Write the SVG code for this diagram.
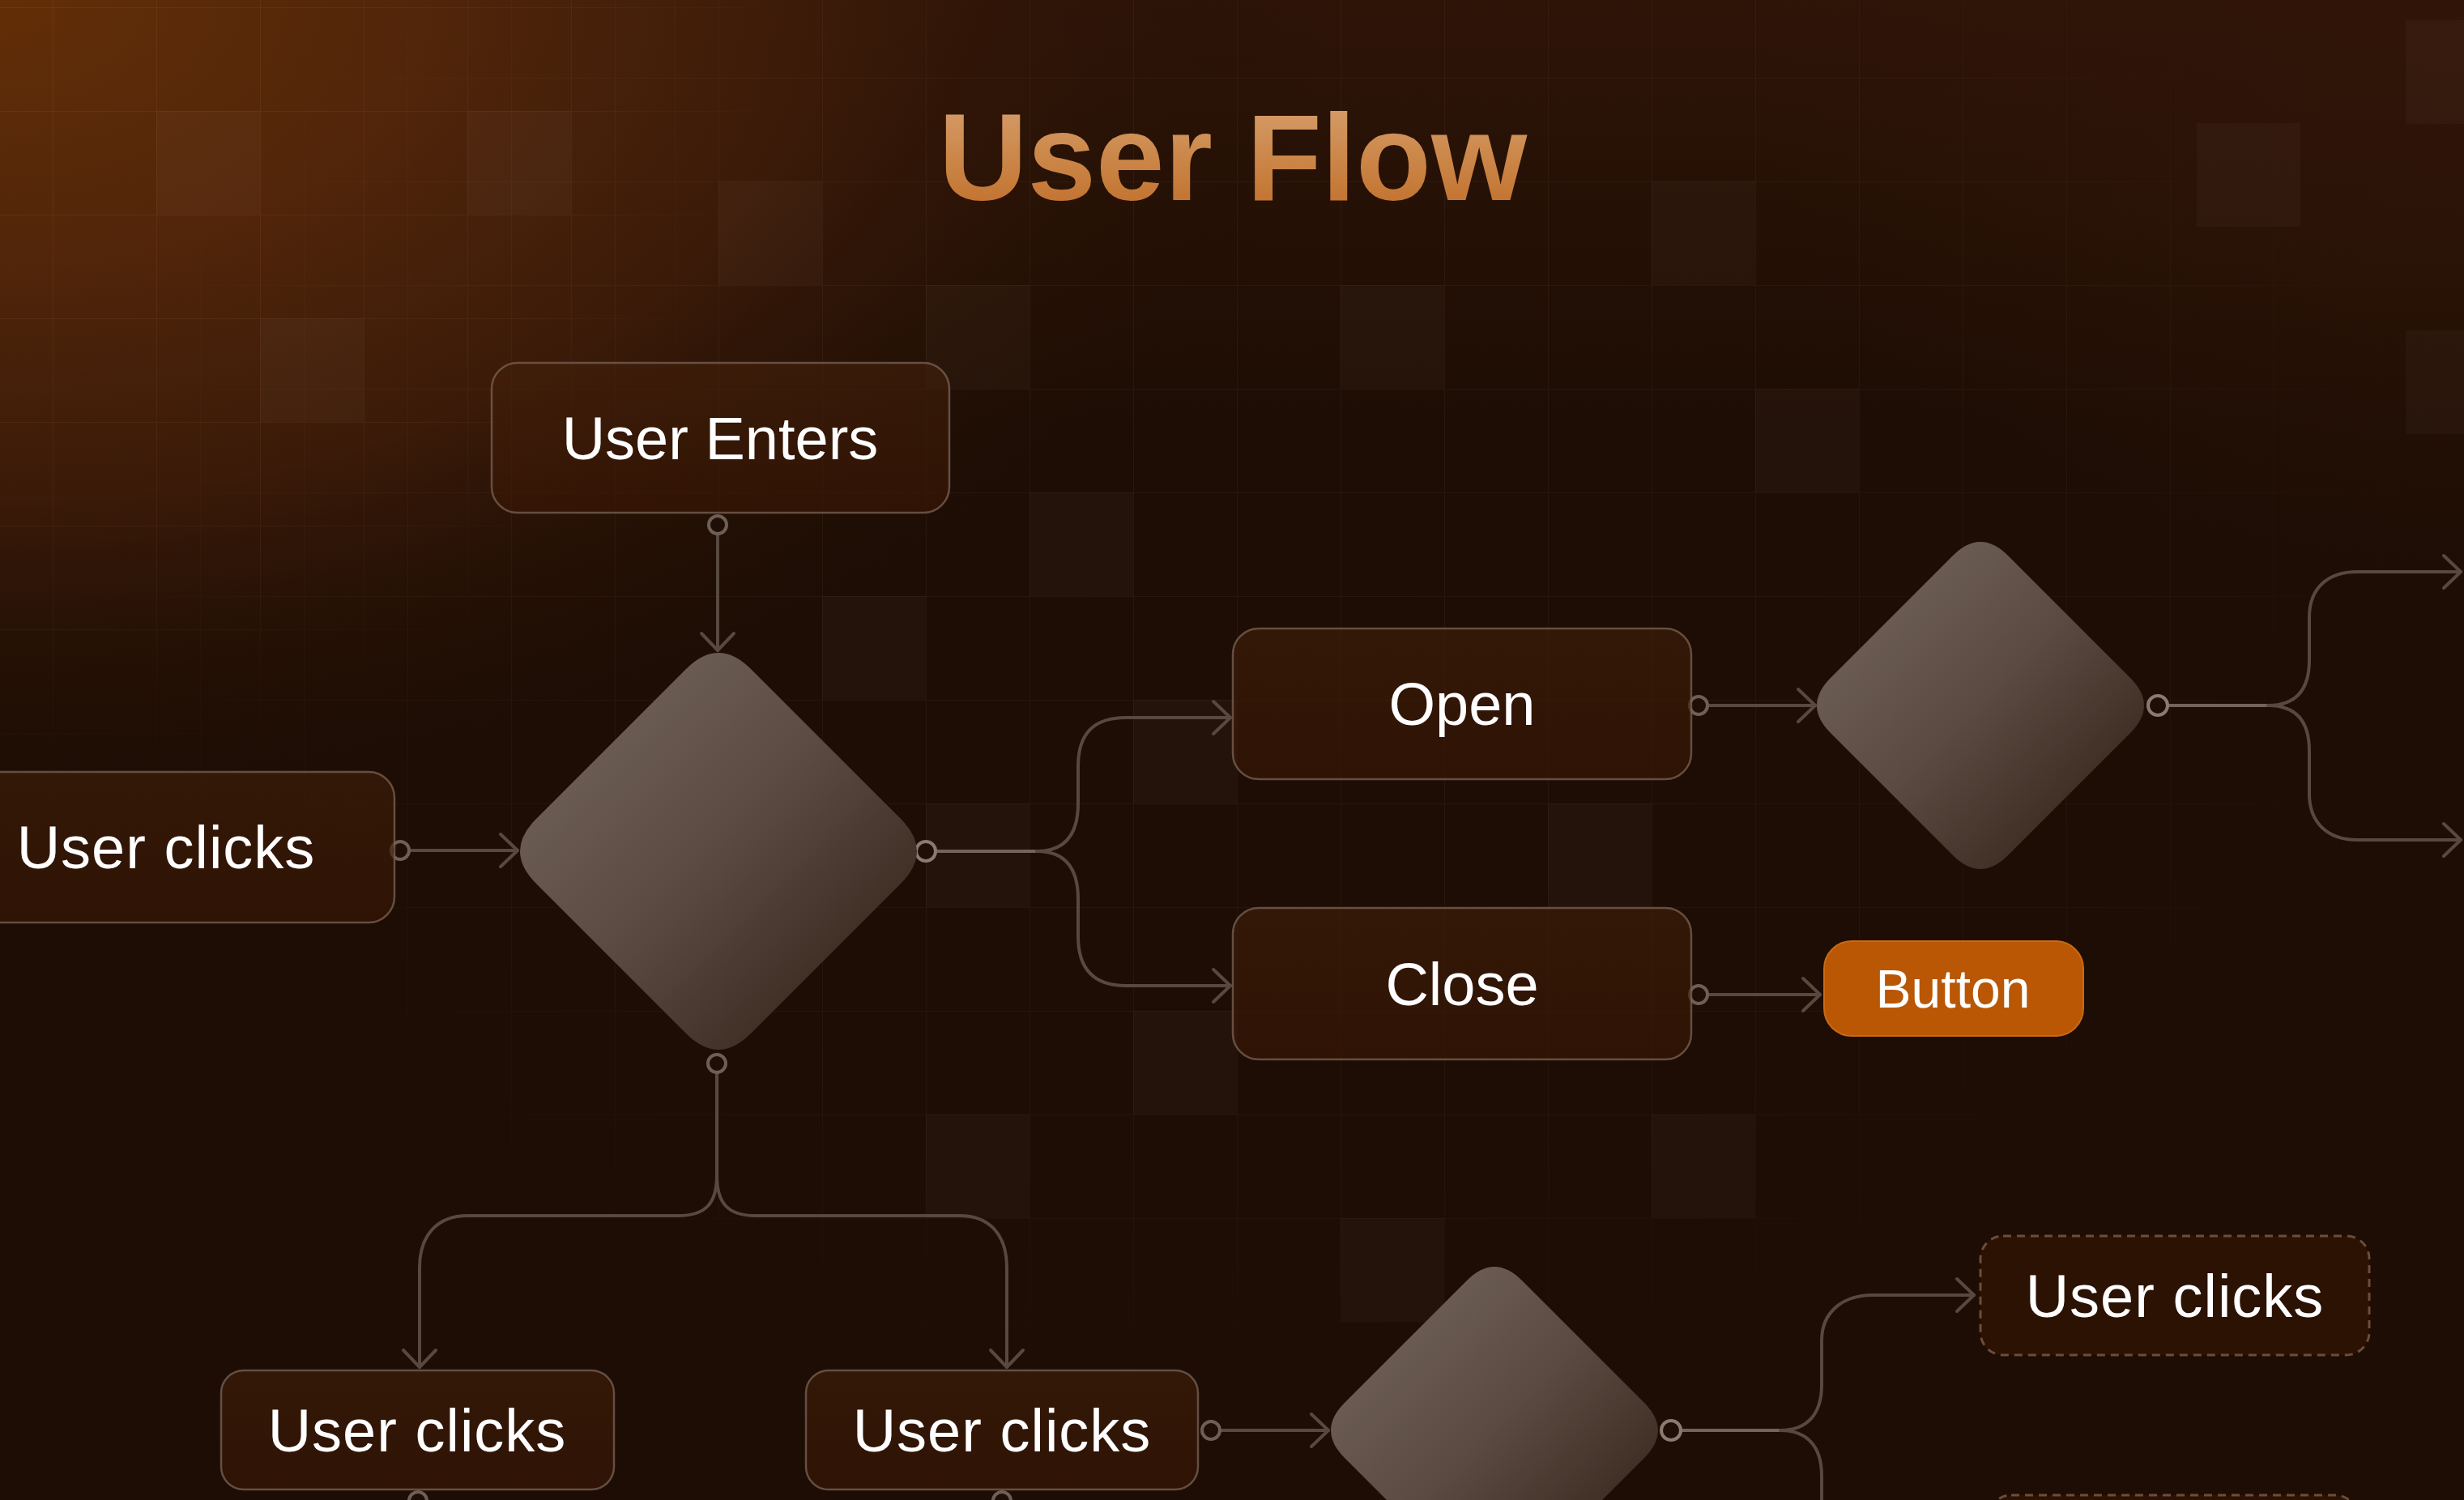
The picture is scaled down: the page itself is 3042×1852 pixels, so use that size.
<svg xmlns="http://www.w3.org/2000/svg" width="3042" height="1852" viewBox="0 0 3042 1852">
<defs>
<style>
.box{fill:url(#boxFill);stroke:#7A6356;stroke-opacity:.75;stroke-width:2.5}
.lbl{font-family:"Liberation Sans",Arial,sans-serif;font-size:74px;fill:#FFFFFF;text-anchor:middle}
.wire{fill:none;stroke:#574840;stroke-width:4;stroke-linecap:round;stroke-linejoin:round}
.stem{fill:none;stroke:#736459;stroke-width:4;stroke-linecap:round}
.port{fill:#1E0E05;stroke:#6E5F56;stroke-width:4}
.portL{fill:#1E0E05;stroke:#8A7B72;stroke-width:4}
.dia{fill:url(#diaFill)}
.cell{fill:#FFE6D2;fill-opacity:.032}
</style>
<linearGradient id="boxFill" x1="0" y1="0" x2="0" y2="1">
<stop offset="0" stop-color="#42200A" stop-opacity=".6"/>
<stop offset="1" stop-color="#3A1604" stop-opacity=".62"/>
</linearGradient>
<linearGradient id="diaFill" x1="0.2" y1="0.2" x2="0.85" y2="0.85">
<stop offset="0" stop-color="#6C5D54"/>
<stop offset="0.45" stop-color="#5A4A41"/>
<stop offset="1" stop-color="#39291F"/>
</linearGradient>
<linearGradient id="titleFill" x1="0" y1="0" x2="0" y2="1">
<stop offset="0" stop-color="#D9A274"/>
<stop offset="0.5" stop-color="#CB8749"/>
<stop offset="1" stop-color="#BF6A25"/>
</linearGradient>
<linearGradient id="topBand" x1="0" y1="0" x2="0" y2="1">
<stop offset="0" stop-color="#2E1407" stop-opacity="1"/>
<stop offset="1" stop-color="#2E1407" stop-opacity="0"/>
</linearGradient>
<radialGradient id="glowTL" gradientUnits="userSpaceOnUse" cx="0" cy="0" r="1650" gradientTransform="scale(1 0.62)">
<stop offset="0" stop-color="#622E07"/>
<stop offset="0.3" stop-color="#52260A"/>
<stop offset="0.6" stop-color="#3E1C09" stop-opacity=".9"/>
<stop offset="1" stop-color="#1D0D04" stop-opacity="0"/>
</radialGradient>
<radialGradient id="glowTR" gradientUnits="userSpaceOnUse" cx="3042" cy="0" r="900" gradientTransform="translate(3042 0) scale(1 0.8) translate(-3042 0)">
<stop offset="0" stop-color="#301508" stop-opacity=".9"/>
<stop offset="1" stop-color="#301508" stop-opacity="0"/>
</radialGradient>
<pattern id="gridMain" patternUnits="userSpaceOnUse" x="119" y="96" width="128" height="128">
<path d="M0 0H128M0 0V128" fill="none" stroke="#FFE0C8" stroke-opacity=".05" stroke-width="2"/>
</pattern>
<pattern id="gridTL" patternUnits="userSpaceOnUse" x="65" y="9" width="128" height="128">
<path d="M0 0H128M0 0V128" fill="none" stroke="#FFA060" stroke-opacity=".09" stroke-width="2"/>
</pattern>
<radialGradient id="maskMainG" gradientUnits="userSpaceOnUse" cx="1550" cy="650" r="1500" gradientTransform="translate(1550 650) scale(1 0.75) translate(-1550 -650)">
<stop offset="0" stop-color="#fff"/>
<stop offset="0.7" stop-color="#fff" stop-opacity=".8"/>
<stop offset="1" stop-color="#fff" stop-opacity="0"/>
</radialGradient>
<radialGradient id="maskTLG" gradientUnits="userSpaceOnUse" cx="0" cy="0" r="1000">
<stop offset="0" stop-color="#fff"/>
<stop offset="0.75" stop-color="#fff" stop-opacity=".7"/>
<stop offset="1" stop-color="#fff" stop-opacity="0"/>
</radialGradient>
<mask id="maskMain" maskUnits="userSpaceOnUse" x="0" y="0" width="3042" height="1852"><rect width="3042" height="1852" fill="url(#maskMainG)"/></mask>
<mask id="maskTL" maskUnits="userSpaceOnUse" x="0" y="0" width="3042" height="1852"><rect width="3042" height="1852" fill="url(#maskTLG)"/></mask>
<marker id="arr" markerUnits="userSpaceOnUse" markerWidth="40" markerHeight="50" viewBox="-30 -25 40 50" refX="0" refY="0" orient="auto">
<path d="M-21,-20 L0,0 L-21,20" fill="none" stroke="#574840" stroke-width="4" stroke-linecap="round" stroke-linejoin="round"/>
</marker>
</defs>

<g id="background">
<rect width="3042" height="1852" fill="#1D0D04"/>
<rect width="3042" height="520" fill="url(#topBand)"/>
<rect width="3042" height="1852" fill="url(#glowTR)"/>
<rect width="3042" height="1852" fill="url(#glowTL)"/>
<rect width="3042" height="1852" fill="url(#gridMain)" mask="url(#maskMain)"/>
<rect width="3042" height="1852" fill="url(#gridTL)" mask="url(#maskTL)"/>
<g id="cells">
<rect class="cell" x="2039" y="224" width="128" height="128"/>
<rect class="cell" x="1655" y="352" width="128" height="128" fill-opacity=".045"/>
<rect class="cell" x="1143" y="352" width="128" height="128" fill-opacity=".04"/>
<rect class="cell" x="2167" y="480" width="128" height="128" fill-opacity=".022"/>
<rect class="cell" x="1271" y="608" width="128" height="128"/>
<rect class="cell" x="1015" y="736" width="128" height="128" fill-opacity=".025"/>
<rect class="cell" x="1399" y="864" width="128" height="128"/>
<rect class="cell" x="1143" y="992" width="128" height="128" fill-opacity=".03"/>
<rect class="cell" x="1911" y="992" width="128" height="128" fill-opacity=".025"/>
<rect class="cell" x="1399" y="1248" width="128" height="128" fill-opacity=".025"/>
<rect class="cell" x="1143" y="1376" width="128" height="128" fill-opacity=".018"/>
<rect class="cell" x="2039" y="1376" width="128" height="128" fill-opacity=".022"/>
<rect class="cell" x="1655" y="1504" width="128" height="128" fill-opacity=".022"/>
<rect class="cell" x="887" y="224" width="128" height="128" fill-opacity=".025"/>
<rect class="cell" x="2712" y="152" width="128" height="128" fill-opacity=".03"/>
<rect class="cell" x="2970" y="25" width="128" height="128" fill-opacity=".035"/>
<rect class="cell" x="2970" y="408" width="128" height="128" fill-opacity=".02"/>
<rect class="cell" x="193" y="137" width="128" height="128" fill-opacity=".04"/>
<rect class="cell" x="577" y="137" width="128" height="128" fill-opacity=".025"/>
<rect class="cell" x="321" y="393" width="128" height="128" fill-opacity=".035"/>
</g>
</g>

<g id="title">
<text x="1522" y="247" font-family="'Liberation Sans',Arial,sans-serif" font-size="152" font-weight="bold" fill="url(#titleFill)" text-anchor="middle">User Flow</text>
</g>

<g id="connectors">
<path class="wire" d="M886,660 L886,803" marker-end="url(#arr)"/>
<path class="wire" d="M506,1050 L639,1050" marker-end="url(#arr)"/>
<path class="stem" d="M1155,1051 L1280,1051"/>
<path class="wire" d="M1280,1051 C1315,1051 1331,1030 1331,992 L1331,946 C1331,906 1350,886 1390,886 L1519,886" marker-end="url(#arr)"/>
<path class="wire" d="M1280,1051 C1315,1051 1331,1072 1331,1110 L1331,1156 C1331,1196 1350,1217 1390,1217 L1519,1217" marker-end="url(#arr)"/>
<path class="wire" d="M2109,871 L2241,871" marker-end="url(#arr)"/>
<path class="wire" d="M2109,1228 L2247,1228" marker-end="url(#arr)"/>
<path class="stem" d="M2676,871 L2800,871"/>
<path class="wire" d="M2800,871 C2836,871 2851,850 2851,815 L2851,762 C2851,726 2874,706 2910,706 L3038,706" marker-end="url(#arr)"/>
<path class="wire" d="M2800,871 C2836,871 2851,892 2851,927 L2851,980 C2851,1016 2874,1037 2910,1037 L3038,1037" marker-end="url(#arr)"/>
<path class="wire" d="M885,1325 L885,1451"/>
<path class="wire" d="M885,1451 C885,1485 872,1501 837,1501 L577,1501 C540,1501 518,1525 518,1565 L518,1688" marker-end="url(#arr)"/>
<path class="wire" d="M885,1451 C885,1485 898,1501 933,1501 L1185,1501 C1222,1501 1243,1525 1243,1565 L1243,1688" marker-end="url(#arr)"/>
<path class="wire" d="M1507,1766 L1640,1766" marker-end="url(#arr)"/>
<path class="stem" d="M2075,1766 L2198,1766"/>
<path class="wire" d="M2198,1766 C2232,1766 2249,1745 2249,1710 L2249,1655 C2249,1620 2275,1599 2312,1599 L2437,1599" marker-end="url(#arr)"/>
<path class="wire" d="M2198,1766 C2232,1766 2249,1787 2249,1822 L2249,1870"/>
<circle class="port" cx="886" cy="648" r="11"/>
<circle class="port" cx="494" cy="1050" r="11"/>
<circle class="portL" cx="1143" cy="1051" r="12"/>
<circle class="port" cx="2097" cy="871" r="11"/>
<circle class="port" cx="2097" cy="1228" r="11"/>
<circle class="portL" cx="2664" cy="871" r="12"/>
<circle class="port" cx="885" cy="1313" r="11"/>
<circle class="port" cx="1495" cy="1766" r="11"/>
<circle class="portL" cx="2063" cy="1766" r="12"/>
<circle class="port" cx="516" cy="1853" r="11"/>
<circle class="port" cx="1237" cy="1853" r="11"/>
</g>

<g id="node-user-enters">
<rect class="box" x="607" y="448" width="565" height="185" rx="32"/>
<text class="lbl" x="889" y="567">User Enters</text>
</g>
<g id="node-user-clicks-left">
<rect class="box" x="-77" y="953" width="564" height="186" rx="32"/>
<text class="lbl" x="205" y="1072" letter-spacing="1">User clicks</text>
</g>
<g id="node-decision-1">
<path class="dia" d="M847,826 Q887,786 927,826 L1112,1011 Q1152,1051 1112,1091 L927,1276 Q887,1316 847,1276 L662,1091 Q622,1051 662,1011 Z"/>
</g>
<g id="node-open">
<rect class="box" x="1522" y="776" width="566" height="186" rx="32"/>
<text class="lbl" x="1805" y="895">Open</text>
</g>
<g id="node-close">
<rect class="box" x="1522" y="1121" width="566" height="187" rx="32"/>
<text class="lbl" x="1805" y="1241">Close</text>
</g>
<g id="node-decision-2">
<path class="dia" d="M2411,686 Q2445,652 2479,686 L2630,837 Q2664,871 2630,905 L2479,1056 Q2445,1090 2411,1056 L2260,905 Q2226,871 2260,837 Z"/>
</g>
<g id="node-button">
<rect x="2252" y="1162" width="320" height="117" rx="34" fill="#B95705" stroke="#C96A16" stroke-width="2"/>
<text class="lbl" x="2411" y="1244" style="font-size:66px">Button</text>
</g>
<g id="node-user-clicks-b1">
<rect class="box" x="273" y="1692" width="485" height="147" rx="28"/>
<text class="lbl" x="515" y="1792" letter-spacing="1">User clicks</text>
</g>
<g id="node-user-clicks-b2">
<rect class="box" x="995" y="1692" width="484" height="147" rx="28"/>
<text class="lbl" x="1237" y="1792" letter-spacing="1">User clicks</text>
</g>
<g id="node-decision-3">
<path class="dia" d="M1811,1581 Q1845,1547 1879,1581 L2030,1732 Q2064,1766 2030,1800 L1879,1951 Q1845,1985 1811,1951 L1660,1800 Q1626,1766 1660,1732 Z"/>
</g>
<g id="node-user-clicks-dashed">
<rect x="2445" y="1526" width="480" height="147" rx="28" fill="#2C1203" stroke="#6E4C3A" stroke-width="3" stroke-dasharray="10 7"/>
<text class="lbl" x="2685" y="1626" letter-spacing="1">User clicks</text>
</g>
<g id="node-dashed-lower">
<rect x="2455" y="1846" width="456" height="120" rx="28" fill="#2C1203" stroke="#6E4C3A" stroke-width="3" stroke-dasharray="10 7"/>
</g>
</svg>
